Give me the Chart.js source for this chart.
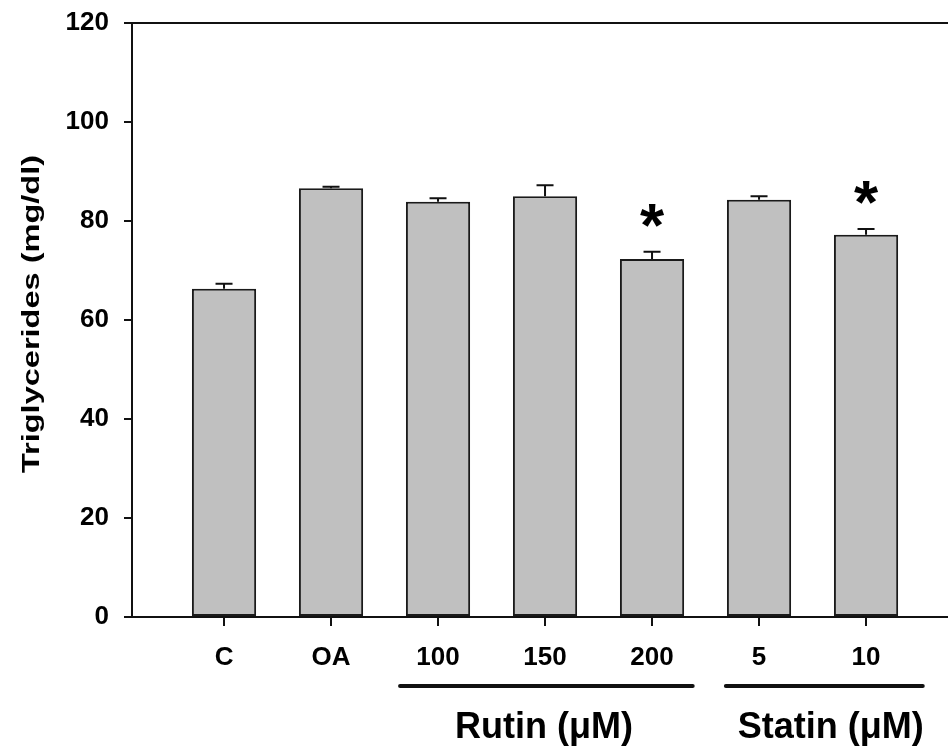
<!DOCTYPE html>
<html>
<head>
<meta charset="utf-8">
<script src="https://cdn.jsdelivr.net/npm/chart.js@4"></script>
<style>
	html, body { margin: 0; padding: 0; background: #fff; }
	#wrap { width: 948px; height: 749px; }
</style>
</head>
<body>
<div id="wrap"><canvas id="grafico" width="948" height="749"></canvas></div>
<script>
const categorias = ["C", "OA", "100", "150", "200", "5", "10"]
const medias = [66.3, 86.6, 83.9, 85.0, 72.3, 84.3, 77.2]
const erros = [1.0, 0.3, 0.7, 2.2, 1.5, 0.7, 1.2]
const asteriscos = [false, false, false, false, true, false, true]
const yTicks = [0, 20, 40, 60, 80, 100, 120]
const grupos = [
	{ nome: "Rutin (\u03bcM)", de: 1.645, ate: 4.38, centro: 2.99 },
	{ nome: "Statin (\u03bcM)", de: 4.69, ate: 6.53, centro: 5.67 },
]

const FONTE = "'Liberation Sans', Arial, sans-serif"

// barras de erro, asteriscos, linha do topo, grupos e titulo do eixo y
const extras = {
	id: "extras",
	afterDatasetsDraw(chart) {
		const ctx = chart.ctx
		const x = chart.scales.x
		const y = chart.scales.y
		const area = chart.chartArea
		ctx.save()
		ctx.strokeStyle = "#111"
		ctx.fillStyle = "#000"
		ctx.lineWidth = 2

		// linha do topo
		ctx.beginPath()
		ctx.moveTo(area.left - 8, area.top)
		ctx.lineTo(area.right, area.top)
		ctx.stroke()

		for (let i = 0; i < medias.length; i++) {
			let px = x.getPixelForValue(i)
			let yBar = y.getPixelForValue(medias[i])
			let yTop = y.getPixelForValue(medias[i] + erros[i])
			ctx.beginPath()
			ctx.moveTo(px, yBar)
			ctx.lineTo(px, yTop)
			ctx.moveTo(px - 8.5, yTop)
			ctx.lineTo(px + 8.5, yTop)
			ctx.stroke()

			if (asteriscos[i]) {
				ctx.font = "bold 62px " + FONTE
				let m = ctx.measureText("*")
				let alvo = yTop - 36
				let base = alvo + (m.actualBoundingBoxAscent - m.actualBoundingBoxDescent) / 2
				ctx.textAlign = "center"
				ctx.textBaseline = "alphabetic"
				ctx.fillText("*", px, base)
			}
		}

		// grupos
		ctx.lineWidth = 4
		ctx.lineCap = "round"
		for (const g of grupos) {
			ctx.beginPath()
			ctx.moveTo(x.getPixelForValue(g.de), 686)
			ctx.lineTo(x.getPixelForValue(g.ate), 686)
			ctx.stroke()
			ctx.font = "bold 36px " + FONTE
			ctx.textAlign = "center"
			ctx.textBaseline = "alphabetic"
			ctx.fillText(g.nome, x.getPixelForValue(g.centro), 738)
		}

		// titulo do eixo y
		ctx.font = "bold 24px " + FONTE
		let w = ctx.measureText("Triglycerides (mg/dl)").width
		ctx.translate(32, 314)
		ctx.rotate(-Math.PI / 2)
		ctx.scale(318 / w, 1)
		ctx.textAlign = "center"
		ctx.textBaseline = "middle"
		ctx.fillText("Triglycerides (mg/dl)", 0, 0)
		ctx.restore()
	},
}

var grafico = new Chart(document.getElementById("grafico"), {
	type: "bar",
	data: {
		datasets: [
			{
				data: medias.map((v, i) => ({ x: i, y: v })),
				backgroundColor: "#c0c0c0",
				borderColor: "#1a1a1a",
				borderWidth: 2,
				borderSkipped: false,
				barPercentage: 0.6,
				categoryPercentage: 1,
			},
		],
	},
	options: {
		responsive: false,
		animation: false,
		layout: { padding: { top: 23, left: 0, right: 0, bottom: 0 } },
		plugins: { legend: { display: false }, tooltip: { enabled: false } },
		scales: {
			x: {
				type: "linear",
				min: -0.86,
				max: 6.766,
				offset: false,
				afterBuildTicks: (s) => {
					s.ticks = categorias.map((c, i) => ({ value: i }))
				},
				afterFit: (s) => {
					s.height = 132
					s.paddingLeft = 0
					s.paddingRight = 0
				},
				grid: { offset: false, drawOnChartArea: false, drawTicks: true, tickLength: 9, color: "#111", lineWidth: 2 },
				border: { color: "#111", width: 2 },
				ticks: {
					color: "#000",
					font: { family: FONTE, size: 26, weight: "bold" },
					padding: 16,
					maxRotation: 0,
					autoSkip: false,
					callback: (v) => categorias[v],
				},
			},
			y: {
				min: 0,
				max: 120,
				afterBuildTicks: (s) => {
					s.ticks = yTicks.map((v) => ({ value: v }))
				},
				afterFit: (s) => {
					s.width = 132
					s.paddingTop = 0
					s.paddingBottom = 0
				},
				grid: { drawOnChartArea: false, drawTicks: true, tickLength: 8, color: "#111", lineWidth: 2 },
				border: { color: "#111", width: 2 },
				ticks: {
					color: "#000",
					font: { family: FONTE, size: 26, weight: "bold" },
					padding: 15,
				},
			},
		},
	},
	plugins: [extras],
})
</script>
</body>
</html>
